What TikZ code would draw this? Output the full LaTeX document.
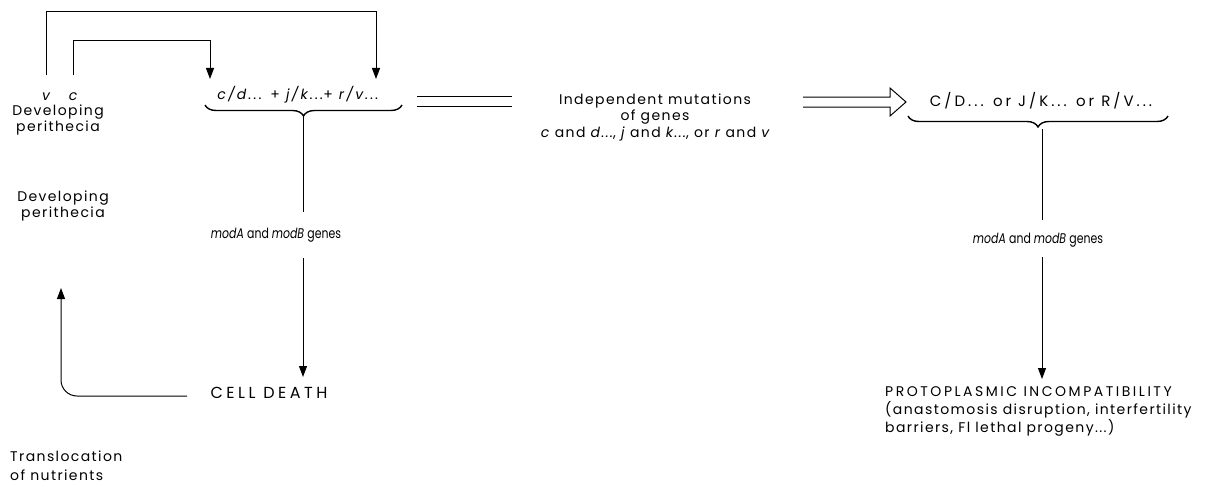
\documentclass[tikz,border=0pt]{standalone}
\usepackage{fontspec}
\usepackage{graphicx}
\setmainfont{Poppins}
\newfontfamily\spaced[LetterSpace=10]{Poppins}
\newfontfamily\midsp[LetterSpace=16]{Poppins}
\newfontfamily\capsp[LetterSpace=18]{Poppins}
\newfontfamily\capc[LetterSpace=20]{Poppins}
\newfontfamily\capwide[LetterSpace=22]{Poppins}
\newcommand{\narrowit}[1]{\scalebox{0.78}[1]{#1}}
\usetikzlibrary{arrows.meta,decorations.pathreplacing}
\tikzset{
  txt/.style={inner sep=1pt, font=\spaced\fontsize{14}{16.5}\selectfont, align=center},
  itx/.style={inner sep=1pt, font=\fontsize{14}{16}\selectfont, align=center},
  conn/.style={line width=1pt},
  arr/.style={conn, -{Triangle[length=11pt,width=8pt]}},
  brc/.style={line width=1.4pt, decorate, decoration={brace, mirror, amplitude=11pt}},
}
\begin{document}
\begin{tikzpicture}[x=1pt,y=-1pt]
\useasboundingbox (0,0) rectangle (1215,487);
% left top labels
\node[txt] (v) at (46,97) {\itshape v};
\node[txt] (c) at (73,97) {\itshape c};
\node[txt] (dev1) at (58,120) {Developing\\perithecia};
\node[txt, font=\midsp\fontsize{14}{16}\selectfont] (cd) at (298,95) {\itshape c/d... \upshape+ \itshape j/k...\upshape+ \itshape r/v...};
\coordinate (vb) at (46,75);
\coordinate (cb) at (73,75);
\coordinate (vt) at (46,12);
\coordinate (ct) at (73,41);
\coordinate (rin) at (376,79);
\coordinate (cin) at (210,79);
\draw[arr] (vb) -- (vt) -| (rin);
\draw[arr] (cb) -- (ct) -| (cin);
% left brace and chain
\coordinate (lbl) at (205,105);
\coordinate (lbr) at (402,105);
\draw[brc] (lbl) -- (lbr);
\coordinate (ltip) at (303,117);
\node[itx] (modL) at (276,235) {\narrowit{\itshape modA \upshape and \itshape modB \upshape genes}};
\coordinate (lm1) at (303,212);
\coordinate (lm2) at (303,258);
\coordinate (lm3) at (303,377);
\draw[conn] (ltip) -- (lm1);
\draw[arr] (lm2) -- (lm3);
\node[txt, font=\capwide\fontsize{16}{17}\selectfont] (death) at (269,393) {CELL DEATH};
\coordinate (dl) at (187,396);
\coordinate (dup) at (61,288);
\draw[arr, rounded corners=16pt] (dl) -| (dup);
\node[txt] (dev2) at (63,206) {Developing\\perithecia};
\node[txt, align=left, anchor=west, font=\spaced\fontsize{14}{19}\selectfont] (trans) at (9,466) {Translocation\\of nutrients};
% middle
\coordinate (eqL) at (417,101.5);
\coordinate (eqR) at (512,101.5);
\draw[conn, double, double distance=8.5pt] (eqL) -- (eqR);
\node[txt] (ind) at (655,117) {Independent mutations\\of genes\\\itshape c \upshape and \itshape d...\upshape, \itshape j \upshape and \itshape k...\upshape, or \itshape r \upshape and \itshape v};
\coordinate (ha1) at (803,97);
\coordinate (ha2) at (890,97);
\coordinate (ha3) at (890,88);
\coordinate (haT) at (906,102);
\coordinate (ha4) at (890,116);
\coordinate (ha5) at (890,107);
\coordinate (ha6) at (803,107);
\draw[conn, line join=miter] (ha1) -- (ha2) -- (ha3) -- (haT) -- (ha4) -- (ha5) -- (ha6);
% right
\node[txt, font=\capc\fontsize{15}{16}\selectfont] (CD) at (1041,101) {C/D... or J/K... or R/V...};
\coordinate (rbl) at (908,116);
\coordinate (rbr) at (1168,116);
\draw[brc] (rbl) -- (rbr);
\coordinate (rtip) at (1042,129);
\coordinate (rm1) at (1042,220);
\node[itx] (modR) at (1038,240) {\narrowit{\itshape modA \upshape and \itshape modB \upshape genes}};
\coordinate (rm2) at (1042,257);
\coordinate (rm3) at (1042,379);
\draw[conn] (rtip) -- (rm1);
\draw[arr] (rm2) -- (rm3);
\node[txt, align=left, anchor=north west, font=\spaced\fontsize{14}{18}\selectfont] (proto) at (884,385) {{\capsp PROTOPLASMIC INCOMPATIBILITY}\\(anastomosis disruption, interfertility\\barriers, Fl lethal progeny...)};
\end{tikzpicture}
\end{document}
